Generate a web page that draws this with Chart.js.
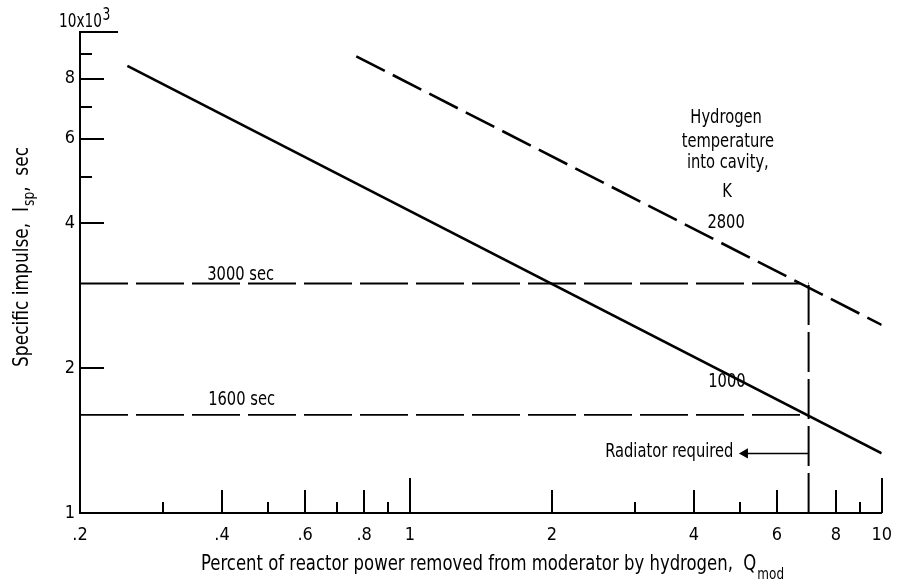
<!DOCTYPE html>
<html>
<head>
<meta charset="utf-8">
<script src="https://cdn.jsdelivr.net/npm/chart.js@4.4.1/dist/chart.umd.min.js"></script>
<style>
  html, body { margin: 0; padding: 0; background: #fff; }
  #wrap { width: 904px; height: 585px; }
</style>
</head>
<body>
<div id="wrap"><canvas id="c" width="904" height="585"></canvas></div>
<script>
// ---- data ----
const xTickLabels = [0.2, 0.4, 0.6, 0.8, 1, 2, 4, 6, 8, 10];
const yTickLabels = [1, 2, 4, 6, 8, 10];
const xMinorTicks = [0.3, 0.5, 0.7, 0.9, 3, 5, 9];
const xMajorTicks = [0.4, 0.6, 0.8, 2, 4, 6, 8];
const xLongTicks = [1, 10];
const yMajorTicks = [2, 4, 6, 8];
const yMinorTicks = [5, 7, 9];
const yTopTicks = [10];

const curve1000X = [0.252, 10];
const curve1000Y = [8.5, 1.33];
const curve2800X = [0.77, 10];
const curve2800Y = [8.9, 2.46];
const limit3000X = [0.2, 7];
const limit3000Y = [3, 3];
const limit1600X = [0.2, 7];
const limit1600Y = [1.6, 1.6];
const radiatorX = [7, 7];
const radiatorY = [1, 3];
const arrowX = [7, 5.13];
const arrowY = [1.33, 1.33];

const FONT = "'Liberation Sans Narrow', 'DejaVu Sans Condensed', sans-serif";

function pts(xs, ys) { return xs.map((x, i) => ({ x: x, y: ys[i] })); }

// annotation texts anchored in data coordinates
const notes = [
  { text: 'Hydrogen', x: 4.68, y: 6.47, align: 'center' },
  { text: 'temperature', x: 4.72, y: 5.77, align: 'center' },
  { text: 'into cavity,', x: 4.72, y: 5.22, align: 'center' },
  { text: 'K', x: 4.7, y: 4.54, align: 'center' },
  { text: '2800', x: 4.68, y: 3.91, align: 'center' },
  { text: '1000', x: 4.7, y: 1.83, align: 'center' },
  { text: '3000 sec', x: 0.438, y: 3.05, align: 'center' },
  { text: '1600 sec', x: 0.44, y: 1.677, align: 'center' },
  { text: 'Radiator required', x: 4.85, y: 1.307, align: 'right' }
];

// draw text squeezed horizontally (tall condensed typeface look)
function sText(ctx, text, x, y, size, align, hs) {
  ctx.save();
  ctx.font = size + 'px ' + FONT;
  const w = ctx.measureText(text).width * hs;
  let lx = x;
  if (align === 'center') lx = x - w / 2;
  else if (align === 'right') lx = x - w;
  ctx.translate(lx, y);
  ctx.scale(hs, 1);
  ctx.textAlign = 'left';
  ctx.fillText(text, 0, 0);
  ctx.restore();
  return w;
}
function sWidth(ctx, text, size, hs) {
  ctx.save(); ctx.font = size + 'px ' + FONT;
  const w = ctx.measureText(text).width * hs; ctx.restore(); return w;
}

const decor = {
  id: 'decor',
  afterDraw(chart) {
    const ctx = chart.ctx;
    const xs = chart.scales.x, ys = chart.scales.y;
    const bottom = chart.chartArea.bottom, left = chart.chartArea.left;
    ctx.save();
    ctx.strokeStyle = '#000';
    ctx.lineWidth = 2;
    ctx.lineCap = 'butt';
    function xt(v, len) {
      const p = Math.round(xs.getPixelForValue(v));
      ctx.beginPath(); ctx.moveTo(p, bottom); ctx.lineTo(p, bottom - len); ctx.stroke();
    }
    function yt(v, len) {
      const p = Math.round(ys.getPixelForValue(v));
      ctx.beginPath(); ctx.moveTo(left, p); ctx.lineTo(left + len, p); ctx.stroke();
    }
    xMinorTicks.forEach(v => xt(v, 11));
    xMajorTicks.forEach(v => xt(v, 23));
    xLongTicks.forEach(v => xt(v, 35));
    yMinorTicks.forEach(v => yt(v, 12));
    yMajorTicks.forEach(v => yt(v, 24));
    yTopTicks.forEach(v => yt(v, 38));

    ctx.fillStyle = '#000';
    ctx.textBaseline = 'alphabetic';

    // top multiplier label
    const w10 = sText(ctx, '10x10', 59, 27, 19, 'left', 0.8);
    sText(ctx, '3', 59 + w10 + 0.5, 20, 17, 'left', 0.8);

    // annotations
    notes.forEach(n => {
      sText(ctx, n.text, xs.getPixelForValue(n.x), ys.getPixelForValue(n.y), 19, n.align, 0.86);
    });

    // x axis title with subscript, fitted to the reference span
    const mainX = 'Percent of reactor power removed from moderator by hydrogen,  Q';
    const targetX = 582;
    const rawX = sWidth(ctx, mainX, 22, 1) + sWidth(ctx, 'mod', 16, 1);
    const hx = targetX / rawX;
    const startX = 201;
    const wm = sText(ctx, mainX, startX, 570, 22, 'left', hx);
    sText(ctx, 'mod', startX + wm + 1, 579, 16, 'left', hx);

    // y axis title with subscript (rotated), fitted to the reference span
    ctx.save();
    ctx.translate(28, 257);
    ctx.rotate(-Math.PI / 2);
    const p1 = 'Specific impulse,  I', p2 = 'sp', p3 = ',  sec';
    const rawY = sWidth(ctx, p1, 21, 1) + sWidth(ctx, p2, 15, 1) + sWidth(ctx, p3, 21, 1) + 1;
    const hy = 220 / rawY;
    let sx = -110;
    const a = sText(ctx, p1, sx, 0, 21, 'left', hy);
    const b = sText(ctx, p2, sx + a + 1, 6, 15, 'left', hy);
    sText(ctx, p3, sx + a + b + 1, 0, 21, 'left', hy);
    ctx.restore();

    ctx.restore();
  }
};

new Chart(document.getElementById('c'), {
  type: 'line',
  data: {
    datasets: [
      { data: pts(curve1000X, curve1000Y), borderColor: '#000', borderWidth: 2.6 },
      { data: pts(curve2800X, curve2800Y), borderColor: '#000', borderWidth: 2.6, borderDash: [32, 9] },
      { data: pts(limit3000X, limit3000Y), borderColor: '#000', borderWidth: 1.8, borderDash: [48, 8] },
      { data: pts(limit1600X, limit1600Y), borderColor: '#000', borderWidth: 1.8, borderDash: [48, 8] },
      { data: pts(radiatorX, radiatorY), borderColor: '#000', borderWidth: 2, borderDash: [40, 7] },
      { data: pts(arrowX, arrowY), borderColor: '#000', borderWidth: 1.6,
        pointRadius: [0, 6], pointStyle: 'triangle', pointRotation: -90,
        pointBackgroundColor: '#000', pointBorderColor: '#000', pointBorderWidth: 0 }
    ]
  },
  options: {
    responsive: false,
    animation: false,
    elements: { point: { radius: 0, hoverRadius: 0 }, line: { tension: 0, fill: false } },
    layout: { padding: { top: 32, right: 11, left: 0, bottom: 0 } },
    plugins: { legend: { display: false }, tooltip: { enabled: false }, title: { display: false } },
    events: [],
    scales: {
      x: {
        type: 'logarithmic', min: 0.2, max: 10,
        afterBuildTicks: s => { s.ticks = xTickLabels.map(v => ({ value: v })); },
        afterFit: s => { s.height = 72; },
        grid: { display: false, drawTicks: false },
        border: { display: true, color: '#000', width: 2 },
        ticks: {
          color: '#000', padding: 12, maxRotation: 0, autoSkip: false,
          font: { family: FONT, size: 18 },
          callback: v => (v < 1 ? String(v).replace(/^0/, '') : String(v))
        }
      },
      y: {
        type: 'logarithmic', min: 1, max: 10,
        afterBuildTicks: s => { s.ticks = yTickLabels.map(v => ({ value: v })); },
        afterFit: s => { s.width = 80; },
        grid: { display: false, drawTicks: false },
        border: { display: true, color: '#000', width: 2 },
        ticks: {
          color: '#000', padding: 5, autoSkip: false,
          font: { family: FONT, size: 18 },
          callback: v => (v === 10 ? '' : String(v))
        }
      }
    }
  },
  plugins: [decor]
});
</script>
</body>
</html>
